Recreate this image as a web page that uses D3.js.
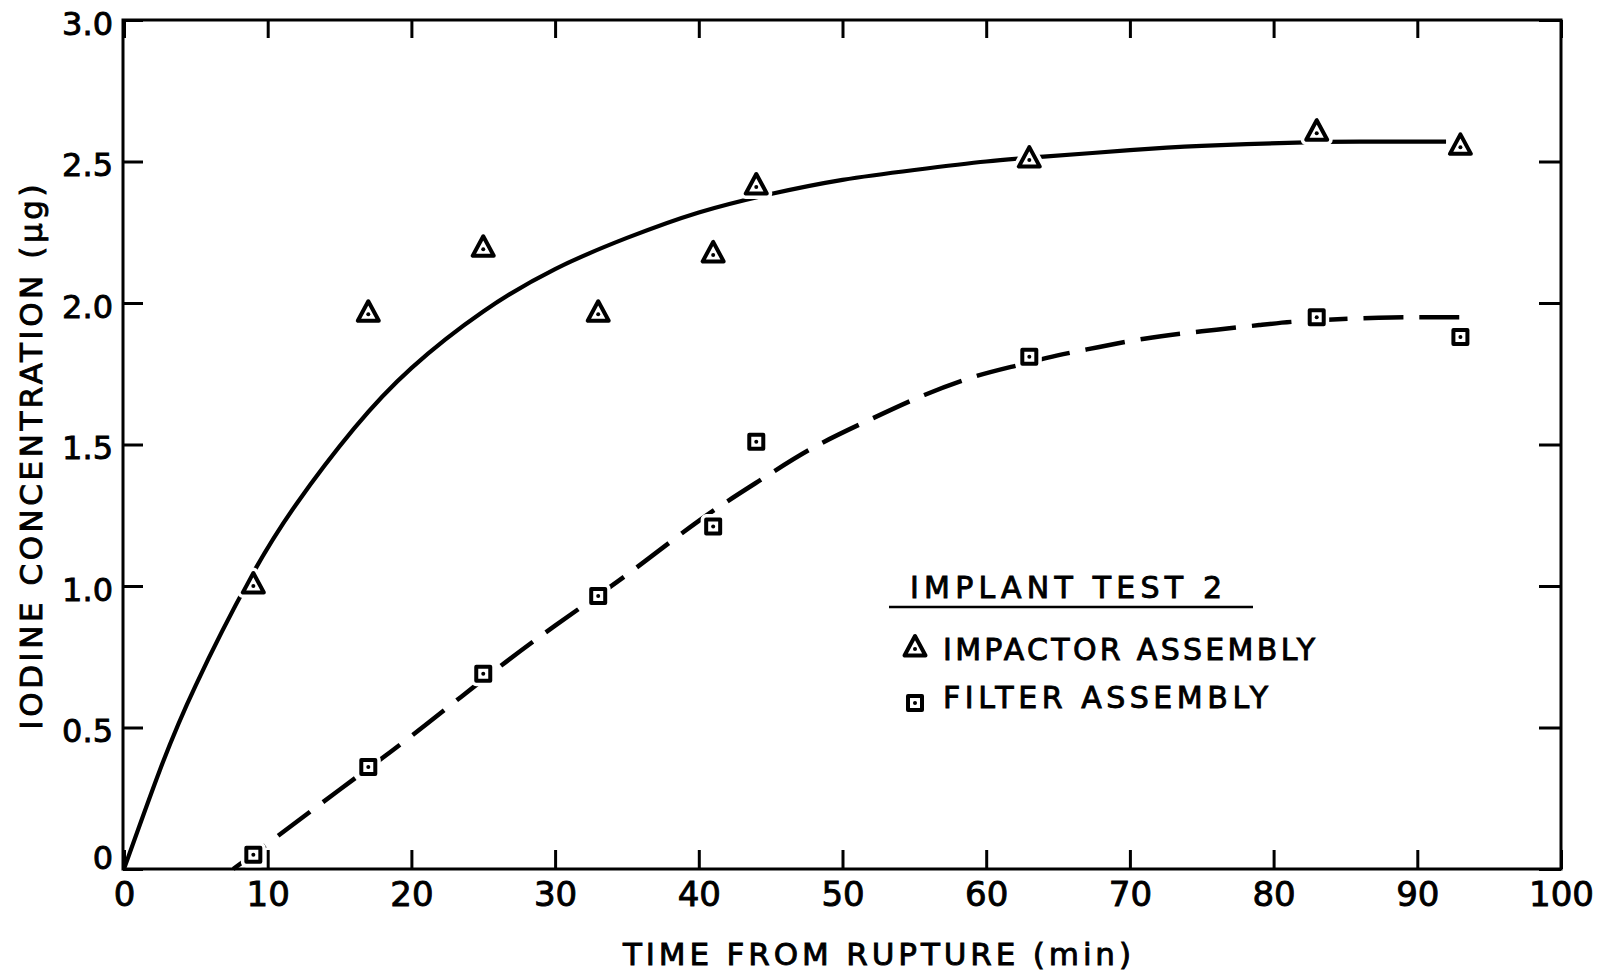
<!DOCTYPE html>
<html>
<head>
<meta charset="utf-8">
<script src="https://cdn.jsdelivr.net/npm/d3@7"></script>
<style>
  body { margin: 0; background: #fff; }
  svg { display: block; }
  text { font-family: "DejaVu Sans", sans-serif; fill: #000; stroke: #000; stroke-width: 0.9px; }
</style>
</head>
<body>
<svg id="chart" width="1608" height="973"></svg>
<script>
// Sampling times (min after rupture) and measured iodine (µg)
const sampleTimes = [9, 17, 25, 33, 41, 44, 63, 83, 93];
const impactorValues = [1.0, 1.96, 2.19, 1.96, 2.17, 2.41, 2.505, 2.60, 2.55];
const filterValues = [0.05, 0.36, 0.69, 0.965, 1.21, 1.51, 1.81, 1.95, 1.88];

// Smoothed trend curves drawn through the data
const impactorFitTimes = [0, 2.5, 5, 8.7, 12, 16, 20, 25, 30, 35, 40, 45, 50, 55, 60, 64, 70, 75, 81, 86, 92];
const impactorFitValues = [0, 0.35, 0.65, 1.02, 1.29, 1.556, 1.77, 1.97, 2.12, 2.23, 2.32, 2.385, 2.435, 2.47, 2.50, 2.517, 2.54, 2.555, 2.566, 2.57, 2.57];
const filterFitTimes = [7.6, 10, 15, 20, 25, 30, 35, 40, 44.4, 48, 52, 55.7, 59.2, 62.2, 64.3, 67, 71, 75, 79, 82.3, 87.3, 90.5, 94];
const filterFitValues = [0, 0.09, 0.28, 0.47, 0.67, 0.86, 1.04, 1.23, 1.378, 1.49, 1.59, 1.675, 1.74, 1.78, 1.807, 1.836, 1.874, 1.90, 1.922, 1.937, 1.948, 1.95, 1.95];

// Axis ticks and labels
const xTickValues = [0, 10, 20, 30, 40, 50, 60, 70, 80, 90, 100];
const xTickLabels = ["0", "10", "20", "30", "40", "50", "60", "70", "80", "90", "100"];
const yTickValues = [0, 0.5, 1.0, 1.5, 2.0, 2.5, 3.0];
const yTickLabels = ["0", "0.5", "1.0", "1.5", "2.0", "2.5", "3.0"];

const xTitle = "TIME FROM RUPTURE (min)";
const yTitle = "IODINE CONCENTRATION (μg)";
const legendTitle = "IMPLANT TEST 2";
const seriesNames = ["IMPACTOR ASSEMBLY", "FILTER ASSEMBLY"];

const svg = d3.select("#chart");
const x = d3.scaleLinear().domain([0, 100]).range([124, 1561]);
const y = d3.scaleLinear().domain([0, 3]).range([869, 20]);

const INK = "#000";

// ---- axes (ticks point inward on all four sides) ----
function styleAxis(g) {
  g.select(".domain").remove();
  g.selectAll(".tick line").attr("stroke", INK).attr("stroke-width", 3);
}

const bottom = svg.append("g")
  .attr("transform", `translate(0,${y(0)})`)
  .call(d3.axisBottom(x).tickValues(xTickValues)
    .tickFormat((d, i) => xTickLabels[i]).tickSizeInner(-19).tickSizeOuter(0))
  .call(styleAxis);
bottom.selectAll(".tick text")
  .attr("y", 37).attr("dy", null)
  .style("font-size", "34px").style("font-family", '"DejaVu Sans", sans-serif');

const left = svg.append("g")
  .attr("transform", `translate(${x.range()[0] - 1},0)`)
  .call(d3.axisLeft(y).tickValues(yTickValues)
    .tickFormat((d, i) => yTickLabels[i]).tickSizeInner(-20).tickSizeOuter(0))
  .call(styleAxis);
left.selectAll(".tick text")
  .attr("x", -10)
  .attr("dy", d => d === 0 ? "-0.02em" : "0.45em")
  .style("font-size", "32px").style("font-family", '"DejaVu Sans", sans-serif');

svg.append("g")
  .attr("transform", `translate(0,${y(3)})`)
  .call(d3.axisTop(x).tickValues(xTickValues).tickFormat("").tickSizeInner(-18).tickSizeOuter(0))
  .call(styleAxis);

svg.append("g")
  .attr("transform", `translate(${x(100)},0)`)
  .call(d3.axisRight(y).tickValues(yTickValues).tickFormat("").tickSizeInner(-22).tickSizeOuter(0))
  .call(styleAxis);

// frame
svg.append("rect")
  .attr("x", x.range()[0] - 1).attr("y", y(3))
  .attr("width", x(100) - x.range()[0] + 1).attr("height", y(0) - y(3))
  .attr("fill", "none").attr("stroke", INK).attr("stroke-width", 3);

// ---- axis titles ----
svg.append("text")
  .attr("x", 877).attr("y", 965)
  .attr("text-anchor", "middle")
  .attr("textLength", 508).attr("lengthAdjust", "spacing")
  .style("font-size", "31px")
  .text(xTitle);

svg.append("text")
  .attr("transform", "translate(42,457) rotate(-90)")
  .attr("text-anchor", "middle")
  .attr("textLength", 545).attr("lengthAdjust", "spacing")
  .style("font-size", "31px")
  .text(yTitle);

// ---- trend curves ----
const line = d3.line()
  .x(d => x(d[0])).y(d => y(d[1]))
  .curve(d3.curveNatural);

svg.append("path")
  .datum(d3.zip(impactorFitTimes, impactorFitValues))
  .attr("d", line)
  .attr("fill", "none").attr("stroke", INK).attr("stroke-width", 4.2);

svg.append("path")
  .datum(d3.zip(filterFitTimes, filterFitValues))
  .attr("d", line)
  .attr("fill", "none").attr("stroke", INK).attr("stroke-width", 4.5)
  .attr("stroke-dasharray", "40 16");

// ---- markers ----
const triPath = "M0,-13L-10.5,6.5L10.5,6.5Z";
const sqPath = "M-7,-7H7V7H-7Z";

function drawMarker(g, cx, cy, shape) {
  const m = g.append("g").attr("transform", `translate(${cx},${cy})`);
  m.append("path").attr("d", shape).attr("fill", "#fff")
    .attr("stroke", "#fff").attr("stroke-width", 11).attr("stroke-linejoin", "round");
  m.append("path").attr("d", shape).attr("fill", "#fff")
    .attr("stroke", INK).attr("stroke-width", 4).attr("stroke-linejoin", "round");
  m.append("circle").attr("r", 2).attr("fill", INK);
}

const markers = svg.append("g");
sampleTimes.forEach((t, i) => drawMarker(markers, x(t), y(impactorValues[i]), triPath));
sampleTimes.forEach((t, i) => drawMarker(markers, x(t), y(filterValues[i]), sqPath));

// ---- legend ----
const legend = svg.append("g");
legend.append("text")
  .attr("x", 910).attr("y", 598)
  .attr("textLength", 312).attr("lengthAdjust", "spacing")
  .style("font-size", "30px")
  .text(legendTitle);
legend.append("line")
  .attr("x1", 889).attr("x2", 1253).attr("y1", 607).attr("y2", 607)
  .attr("stroke", INK).attr("stroke-width", 2.5);

drawMarker(legend, 915, 649, triPath);
legend.append("text")
  .attr("x", 943).attr("y", 660)
  .attr("textLength", 372).attr("lengthAdjust", "spacing")
  .style("font-size", "30px")
  .text(seriesNames[0]);

drawMarker(legend, 915, 703, sqPath);
legend.append("text")
  .attr("x", 943).attr("y", 708)
  .attr("textLength", 325).attr("lengthAdjust", "spacing")
  .style("font-size", "30px")
  .text(seriesNames[1]);
</script>
</body>
</html>
